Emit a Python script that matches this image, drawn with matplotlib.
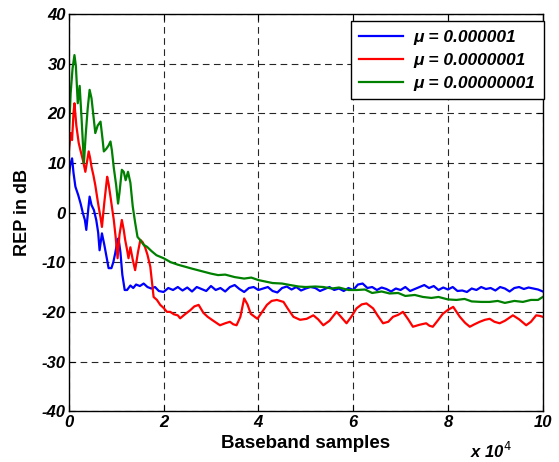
import matplotlib

matplotlib.use("Agg")

import matplotlib.pyplot as plt

# values (x in units of 1e4 samples, y in dB)
blue_x = [0.0, 0.03, 0.07, 0.1, 0.14, 0.2, 0.25, 0.3, 0.34, 0.37, 0.41, 0.44, 0.48, 0.53, 0.58,
          0.62, 0.65, 0.7, 0.75, 0.81, 0.84, 0.9, 0.94, 0.98, 1.02, 1.05, 1.09, 1.13, 1.18,
          1.23, 1.3, 1.36, 1.42, 1.5, 1.58, 1.66, 1.74, 1.82, 1.9, 2.0, 2.1, 2.2, 2.3, 2.4,
          2.5, 2.6, 2.7, 2.8, 2.9, 3.0, 3.1, 3.2, 3.3, 3.4, 3.5, 3.6, 3.7, 3.8, 3.9, 4.0,
          4.1, 4.2, 4.3, 4.4, 4.5, 4.6, 4.7, 4.8, 4.9, 5.0, 5.1, 5.2, 5.3, 5.4, 5.5, 5.6,
          5.7, 5.8, 5.9, 6.0, 6.1, 6.2, 6.3, 6.4, 6.5, 6.6, 6.7, 6.8, 6.9, 7.0, 7.1, 7.2,
          7.3, 7.4, 7.5, 7.6, 7.7, 7.8, 7.9, 8.0, 8.1, 8.2, 8.3, 8.4, 8.5, 8.6, 8.7, 8.8,
          8.9, 9.0, 9.1, 9.2, 9.3, 9.4, 9.5, 9.6, 9.7, 9.8, 9.9, 10.0]
blue_y = [7.0, 9.5, 10.9, 8.0, 5.2, 3.5, 1.8, -0.2, -1.5, -3.5, 0.5, 3.2, 1.5, 0.5, -1.5,
          -4.0, -7.6, -4.2, -6.5, -9.6, -11.2, -11.2, -10.0, -8.2, -6.0, -5.2, -8.0, -12.5, -15.6,
          -15.6, -14.7, -15.2, -14.5, -14.8, -14.3, -15.0, -15.3, -15.0, -15.8, -16.0, -15.2, -15.6, -15.0, -15.7,
          -15.1, -15.9, -15.0, -15.4, -15.8, -14.8, -15.6, -15.2, -15.9, -15.0, -14.6, -15.4, -16.0, -15.2, -15.0, -15.6,
          -15.3, -15.0, -15.8, -16.1, -15.2, -14.9, -15.5, -15.0, -15.7, -15.3, -15.0, -15.2, -15.8, -15.4, -15.0, -15.6,
          -15.3, -15.8, -15.2, -15.6, -14.5, -14.3, -15.2, -15.0, -15.6, -15.1, -15.4, -15.9, -15.3, -15.6, -15.0, -15.8,
          -15.4, -15.0, -14.6, -15.2, -14.8, -15.6, -15.1, -15.5, -15.0, -15.8, -15.7, -16.0, -15.3, -15.6, -15.0, -15.4,
          -15.2, -15.7, -15.0, -15.3, -15.9, -15.2, -15.0, -15.4, -15.1, -15.3, -15.5, -15.9]

red_x = [0.0, 0.04, 0.07, 0.1, 0.12, 0.16, 0.21, 0.25, 0.3, 0.35, 0.39, 0.42, 0.45, 0.48, 0.52,
         0.56, 0.6, 0.63, 0.67, 0.7, 0.75, 0.81, 0.84, 0.88, 0.92, 0.95, 0.99, 1.03, 1.07,
         1.12, 1.16, 1.19, 1.23, 1.26, 1.3, 1.35, 1.4, 1.46, 1.51, 1.56, 1.61, 1.66, 1.72,
         1.79, 1.86, 1.93, 2.0, 2.07, 2.14, 2.22, 2.3, 2.35, 2.45, 2.56, 2.65, 2.74, 2.84,
         2.93, 3.05, 3.19, 3.3, 3.4, 3.47, 3.54, 3.62, 3.7, 3.77, 3.84, 3.98, 4.08, 4.18,
         4.28, 4.39, 4.53, 4.63, 4.74, 4.88, 5.02, 5.16, 5.26, 5.37, 5.5, 5.65, 5.76, 5.86,
         5.96, 6.07, 6.18, 6.28, 6.42, 6.52, 6.63, 6.74, 6.84, 6.95, 7.05, 7.16, 7.26, 7.4,
         7.54, 7.61, 7.68, 7.78, 7.89, 8.0, 8.11, 8.18, 8.25, 8.36, 8.46, 8.56, 8.67, 8.78,
         8.88, 8.98, 9.09, 9.2, 9.37, 9.5, 9.65, 9.75, 9.86, 9.93, 10.0]
red_y = [12.0, 16.0, 14.6, 20.0, 22.0, 17.5, 14.0, 12.4, 10.5, 8.2, 10.5, 12.3, 11.0, 9.2, 7.5,
         5.5, 3.0, 1.2, -1.0, -2.9, 2.0, 7.2, 5.8, 3.2, 0.5, -1.5, -5.0, -9.2, -4.5,
         -1.5, -3.5, -5.5, -7.5, -9.2, -7.0, -9.5, -11.6, -8.0, -5.5, -6.0, -7.0, -8.5, -10.9,
         -17.0, -17.6, -18.6, -19.2, -20.0, -20.0, -20.5, -20.7, -21.3, -20.5, -19.7, -18.9, -18.6, -20.2,
         -21.0, -21.8, -22.7, -22.3, -22.0, -22.5, -22.7, -21.0, -17.3, -18.5, -20.4, -21.4, -20.0, -18.6,
         -17.8, -17.6, -18.0, -19.5, -21.0, -21.6, -21.4, -20.7, -21.5, -22.7, -21.8, -20.0, -21.2, -22.3,
         -21.0, -19.3, -18.5, -18.3, -19.3, -20.8, -22.3, -22.0, -21.0, -20.6, -20.0, -21.5, -23.0, -22.6,
         -22.3, -22.8, -23.0, -21.8, -20.4, -19.6, -19.0, -20.0, -21.0, -22.2, -23.0, -22.5, -22.0, -21.6,
         -21.4, -22.0, -22.3, -21.8, -20.7, -21.5, -22.7, -22.0, -20.7, -20.8, -21.0]

green_x = [0.0, 0.04, 0.08, 0.12, 0.15, 0.19, 0.23, 0.27, 0.32, 0.36, 0.4, 0.44, 0.48, 0.52, 0.56,
           0.61, 0.67, 0.71, 0.74, 0.79, 0.84, 0.88, 0.91, 0.95, 1.0, 1.04, 1.07, 1.12, 1.16,
           1.2, 1.25, 1.3, 1.35, 1.4, 1.45, 1.51, 1.58, 1.65, 1.75, 1.85, 2.0, 2.15, 2.3,
           2.45, 2.6, 2.8, 3.0, 3.15, 3.3, 3.5, 3.7, 3.85, 4.0, 4.15, 4.3, 4.5, 4.67, 4.85,
           5.0, 5.2, 5.37, 5.55, 5.7, 5.9, 6.07, 6.25, 6.4, 6.6, 6.77, 6.95, 7.1, 7.3, 7.47,
           7.65, 7.8, 8.0, 8.18, 8.35, 8.5, 8.7, 8.88, 9.05, 9.2, 9.4, 9.58, 9.75, 9.9, 10.0]
green_y = [15.0, 24.0, 29.0, 31.7, 29.5, 22.0, 25.5, 19.0, 10.0, 16.0, 21.0, 24.7, 23.0, 19.5, 16.0,
           17.5, 18.3, 15.0, 12.3, 12.8, 13.5, 14.3, 12.5, 9.0, 5.5, 1.8, 4.0, 8.6, 8.2,
           6.5, 8.2, 6.0, 1.2, -2.0, -4.9, -5.6, -6.5, -6.9, -7.8, -8.6, -9.2, -10.0, -10.5,
           -10.9, -11.3, -11.8, -12.3, -12.6, -12.5, -13.0, -13.3, -13.1, -13.6, -13.9, -14.2, -14.3, -14.6, -14.9,
           -15.0, -14.9, -15.0, -15.3, -15.1, -15.6, -15.6, -15.5, -16.2, -15.9, -16.3, -16.2, -16.8, -16.6, -17.0,
           -17.2, -17.0, -17.5, -17.6, -17.4, -17.9, -18.0, -18.0, -17.8, -18.2, -17.8, -18.0, -17.6, -17.6, -17.0]

legend_labels = ["\u03bc = 0.000001", "\u03bc = 0.0000001", "\u03bc = 0.00000001"]
x_ticks = [0, 2, 4, 6, 8, 10]
y_ticks = [-40, -30, -20, -10, 0, 10, 20, 30, 40]

plt.rcParams["font.family"] = ["Liberation Sans", "DejaVu Sans"]

fig = plt.figure(figsize=(5.59, 4.62), dpi=100)
ax = fig.add_axes([0.123, 0.110, 0.848, 0.860])

ax.plot(blue_x, blue_y, color="#0000ff", lw=1.6, label=legend_labels[0])
ax.plot(red_x, red_y, color="#ff0000", lw=1.6, label=legend_labels[1])
ax.plot(green_x, green_y, color="#008000", lw=1.6, label=legend_labels[2])

ax.set_xlim(0, 10)
ax.set_ylim(-40, 40)
ax.set_xticks(x_ticks)
ax.set_yticks(y_ticks)
ax.set_xticklabels([str(t) for t in x_ticks], fontsize=12, fontweight="bold", fontstyle="italic")
ax.set_yticklabels([str(t) for t in y_ticks], fontsize=12, fontweight="bold", fontstyle="italic")
ax.tick_params(direction="in", length=4, width=0.8, top=True, right=True, pad=3)
ax.tick_params(axis="y", pad=2)
ax.grid(True, color="black", linestyle=(0, (6, 4)), linewidth=0.8, alpha=0.85)
for spine in ax.spines.values():
    spine.set_linewidth(1.0)

ax.set_xlabel("Baseband samples", fontsize=13.5, fontweight="bold", labelpad=3)
ax.set_ylabel("REP in dB", fontsize=13, fontweight="bold", labelpad=8)
fig.text(0.840, 0.008, "x 10$^{4}$", fontsize=12, fontweight="bold", fontstyle="italic")

leg = ax.legend(loc="upper right", bbox_to_anchor=(1.002, 0.982), fancybox=False, framealpha=1,
                edgecolor="black", borderpad=0.5, handlelength=2.5, handletextpad=0.6,
                labelspacing=0.45, borderaxespad=0.0,
                prop={"weight": "bold", "style": "italic", "size": 12.5})
leg.get_frame().set_linewidth(1.0)

fig.savefig("out.png", dpi=100)
